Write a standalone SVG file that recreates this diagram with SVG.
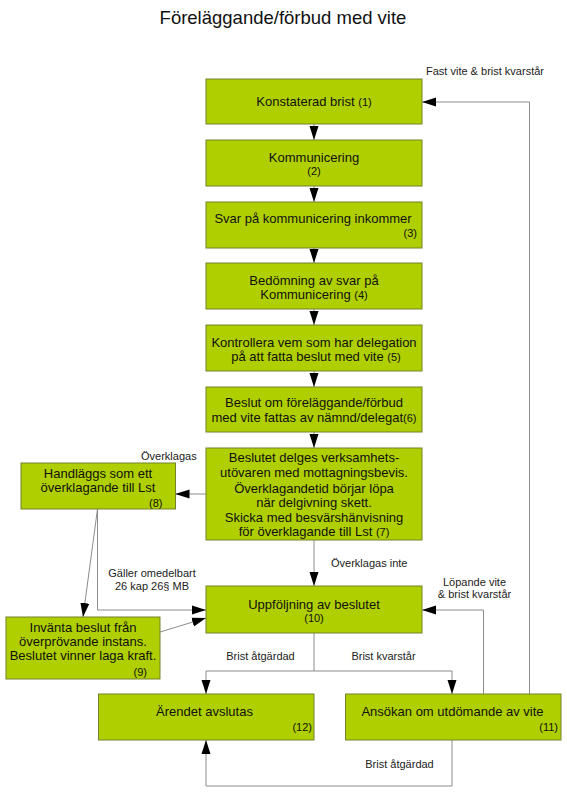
<svg xmlns="http://www.w3.org/2000/svg" width="567" height="792" viewBox="0 0 567 792">
<style>
  .box { fill: #afcf00; stroke: #72822a; stroke-width: 1; }
  .t { font-family: "Liberation Sans", Arial, sans-serif; font-size: 13px; fill: #111; }
  .c { text-anchor: middle; }
  .r { text-anchor: end; }
  .n { font-size: 11px; }
  .lbl { font-family: "Liberation Sans", Arial, sans-serif; font-size: 11px; fill: #222; }
  .title { font-family: "Liberation Sans", Arial, sans-serif; font-size: 18.5px; fill: #111; text-anchor: middle; }
  .conn { fill: none; stroke: #8c8c8c; stroke-width: 1; }
</style>
<defs>
  <marker id="arr" markerUnits="userSpaceOnUse" markerWidth="14" markerHeight="10" refX="14" refY="5" orient="auto">
    <path d="M0,0.5 L14,5 L0,9.5 Z" fill="#000"/>
  </marker>
</defs>
<rect width="567" height="792" fill="#fff"/>
<text class="title" x="283" y="24">Föreläggande/förbud med vite</text>

<g id="connectors">
  <line class="conn" x1="314" y1="124" x2="314" y2="140" marker-end="url(#arr)"/>
  <line class="conn" x1="314" y1="186" x2="314" y2="202" marker-end="url(#arr)"/>
  <line class="conn" x1="314" y1="248" x2="314" y2="263" marker-end="url(#arr)"/>
  <line class="conn" x1="314" y1="309" x2="314" y2="325" marker-end="url(#arr)"/>
  <line class="conn" x1="314" y1="371" x2="314" y2="387" marker-end="url(#arr)"/>
  <line class="conn" x1="314" y1="432" x2="314" y2="448" marker-end="url(#arr)"/>
  <line class="conn" x1="206" y1="494" x2="175.5" y2="494" marker-end="url(#arr)"/>
  <line class="conn" x1="314" y1="540" x2="314" y2="586" marker-end="url(#arr)"/>
  <polyline class="conn" points="97.5,509 97.5,610 206,610" marker-end="url(#arr)"/>
  <line class="conn" x1="97.5" y1="509" x2="83" y2="617" marker-end="url(#arr)"/>
  <line class="conn" x1="160" y1="632" x2="206" y2="618" marker-end="url(#arr)"/>
  <polyline class="conn" points="314,633 314,671 206,671 206,694" marker-end="url(#arr)"/>
  <polyline class="conn" points="314,671 452,671 452,694" marker-end="url(#arr)"/>
  <polyline class="conn" points="483.5,694 483.5,610 422,610" marker-end="url(#arr)"/>
  <polyline class="conn" points="529.5,694 529.5,102 422,102" marker-end="url(#arr)"/>
  <polyline class="conn" points="452,740 452,786 206,786 206,740" marker-end="url(#arr)"/>
  <text class="lbl" x="426" y="75">Fast vite &amp; brist kvarstår</text>
  <text class="lbl" x="141" y="460">Överklagas</text>
  <text class="lbl c" x="152" y="577">Gäller omedelbart</text>
  <text class="lbl c" x="152" y="590">26 kap 26§ MB</text>
  <text class="lbl" x="331" y="567">Överklagas inte</text>
  <text class="lbl c" x="474.5" y="585.5">Löpande vite</text>
  <text class="lbl c" x="474.5" y="597.5">&amp; brist kvarstår</text>
  <text class="lbl c" x="260.5" y="660">Brist åtgärdad</text>
  <text class="lbl c" x="383.5" y="660">Brist kvarstår</text>
  <text class="lbl c" x="399.5" y="768">Brist åtgärdad</text>
</g>

<g id="n1">
  <rect class="box" x="206" y="79" width="216" height="45"/>
  <text class="t c" x="314" y="106">Konstaterad brist  <tspan class="n">(1)</tspan></text>
</g>
<g id="n2">
  <rect class="box" x="206" y="140" width="216" height="46"/>
  <text class="t c" x="314" y="162">Kommunicering</text>
  <text class="t c n" x="314" y="175">(2)</text>
</g>
<g id="n3">
  <rect class="box" x="206" y="202" width="216" height="46"/>
  <text class="t c" x="313" y="223">Svar på kommunicering inkommer</text>
  <text class="t r n" x="417" y="237">(3)</text>
</g>
<g id="n4">
  <rect class="box" x="206" y="263" width="216" height="46"/>
  <text class="t c" x="314" y="284.5">Bedömning av svar på</text>
  <text class="t c" x="314" y="299">Kommunicering <tspan class="n">(4)</tspan></text>
</g>
<g id="n5">
  <rect class="box" x="206" y="325" width="216" height="46"/>
  <text class="t c" x="314" y="346.5">Kontrollera vem som har delegation</text>
  <text class="t c" x="316" y="361">på att fatta beslut med vite <tspan class="n">(5)</tspan></text>
</g>
<g id="n6">
  <rect class="box" x="206" y="387" width="216" height="45"/>
  <text class="t c" x="314" y="407">Beslut om föreläggande/förbud</text>
  <text class="t c" x="314" y="421.5">med vite fattas av nämnd/delegat<tspan class="n">(6)</tspan></text>
</g>
<g id="n7">
  <rect class="box" x="206" y="448" width="216" height="92"/>
  <text class="t c" x="314" y="461.5">Beslutet delges verksamhets-</text>
  <text class="t c" x="314" y="477">utövaren med mottagningsbevis.</text>
  <text class="t c" x="314" y="492.5">Överklagandetid börjar löpa</text>
  <text class="t c" x="314" y="507">när delgivning skett.</text>
  <text class="t c" x="314" y="521.5">Skicka med besvärshänvisning</text>
  <text class="t c" x="314" y="536">för överklagande till Lst <tspan class="n">(7)</tspan></text>
</g>
<g id="n8">
  <rect class="box" x="21" y="463" width="154.5" height="46"/>
  <text class="t c" x="98" y="477.5">Handläggs som ett</text>
  <text class="t c" x="98" y="492">överklagande till Lst</text>
  <text class="t r n" x="162.5" y="507">(8)</text>
</g>
<g id="n9">
  <rect class="box" x="6" y="617" width="154" height="62"/>
  <text class="t c" x="83" y="631.5">Invänta beslut från</text>
  <text class="t c" x="83" y="645.5">överprövande instans.</text>
  <text class="t c" x="83" y="659.5">Beslutet vinner laga kraft.</text>
  <text class="t r n" x="147" y="676">(9)</text>
</g>
<g id="n10">
  <rect class="box" x="206" y="586" width="216" height="47"/>
  <text class="t c" x="314" y="608.5">Uppföljning av beslutet</text>
  <text class="t c n" x="314" y="622">(10)</text>
</g>
<g id="n11">
  <rect class="box" x="345.5" y="694" width="215.5" height="46"/>
  <text class="t c" x="452.5" y="715.5">Ansökan om utdömande av vite</text>
  <text class="t r n" x="558" y="731">(11)</text>
</g>
<g id="n12">
  <rect class="box" x="98.5" y="694" width="215.5" height="46"/>
  <text class="t c" x="204.5" y="715.5">Ärendet avslutas</text>
  <text class="t r n" x="312" y="731">(12)</text>
</g>
</svg>
